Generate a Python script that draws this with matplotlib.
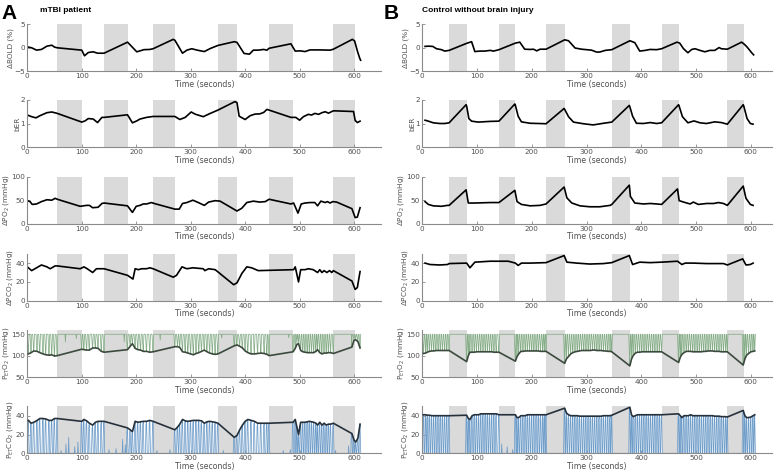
import numpy as np
import matplotlib
matplotlib.use("Agg")
import matplotlib.pyplot as plt

plt.rcParams['font.family'] = ['DejaVu Sans']
plt.rcParams['mathtext.default'] = 'regular'

# ---------------- breath-hold blocks (seconds) ----------------
blocks_A = [(55, 100), (141, 184), (231, 271), (350, 385), (444, 488), (562, 601)]
blocks_B = [(49, 81), (140, 170), (226, 260), (346, 379), (437, 468), (557, 587)]

# ---------------- A: mTBI patient ----------------
bold_A_t = [0, 8, 17, 26, 36, 45, 50, 55, 100, 105, 112, 121, 129, 141, 184, 201, 207, 214, 225, 231,
            268, 271, 285, 293, 302, 312, 325, 336, 350, 380, 385, 398, 408, 415, 424, 434, 440, 444,
            484, 492, 501, 510, 519, 537, 556, 562, 597, 601, 606, 610, 612]
bold_A_v = [0.2, 0, -0.5, -0.35, 0.35, 0.55, 0.15, 0, -0.5, -1.7, -1.0, -0.85, -1.15, -1.15, 1.2, -0.85,
            -0.65, -0.4, -0.35, -0.2, 1.8, 1.6, -1.15, -0.5, -0.2, -0.5, -0.8, -0.15, 0.5, 1.3, 1.15, -1.2,
            -1.35, -0.5, -0.5, -0.35, -0.5, -0.1, 0.85, -0.7, -0.65, -0.8, -0.45, -0.45, -0.5, -0.3, 1.8,
            1.45, -0.65, -2.1, -2.65]

ber_A_t = [0, 8, 16, 23, 36, 45, 55, 100, 106, 112, 121, 129, 137, 141, 184, 193, 201, 207, 219, 231,
           271, 280, 290, 301, 308, 323, 336, 350, 381, 385, 389, 400, 409, 418, 427, 434, 440, 444,
           484, 493, 500, 507, 516, 522, 528, 535, 541, 547, 553, 562, 599, 602, 606, 611]
ber_A_v = [1.36, 1.29, 1.24, 1.33, 1.46, 1.49, 1.43, 1.06, 1.11, 1.21, 1.19, 1.04, 1.26, 1.26, 1.37, 1.03,
           1.11, 1.19, 1.26, 1.30, 1.30, 1.17, 1.26, 1.49, 1.40, 1.29, 1.43, 1.57, 1.93, 1.89, 1.31, 1.17,
           1.33, 1.40, 1.41, 1.47, 1.60, 1.57, 1.26, 1.26, 1.14, 1.29, 1.39, 1.36, 1.43, 1.39, 1.46, 1.50,
           1.44, 1.54, 1.51, 1.13, 1.04, 1.10]

dpo2_A_t = [0, 5, 9, 17, 26, 36, 45, 51, 55, 97, 109, 114, 120, 130, 137, 141, 184, 193, 200, 207, 213,
            219, 228, 233, 271, 279, 285, 293, 304, 314, 325, 333, 345, 354, 385, 394, 403, 415, 427, 437,
            444, 484, 489, 497, 503, 510, 519, 528, 533, 539, 547, 551, 556, 561, 568, 596, 602, 606, 611]
dpo2_A_v = [49, 47, 41, 42, 47, 51, 50, 54, 52, 37, 39, 39, 34, 35, 43, 44, 38, 24, 37, 39, 42, 42, 45, 43,
            31, 31, 43, 45, 50, 45, 39, 46, 49, 48, 27, 33, 45, 48, 46, 47, 52, 42, 44, 22.5, 42, 44, 45, 45,
            38, 48, 45, 47, 44, 47, 46, 32, 13, 14, 34]

dpco2_A_t = [0, 8, 17, 26, 36, 42, 51, 55, 97, 104, 110, 120, 127, 141, 184, 194, 198, 204, 210, 219, 225,
             231, 268, 274, 284, 293, 304, 323, 326, 333, 345, 379, 385, 394, 403, 412, 424, 489, 492, 498,
             502, 510, 516, 525, 533, 537, 541, 545, 550, 555, 559, 562, 596, 602, 606, 611]
dpco2_A_v = [36, 32, 35, 38, 36, 34, 37, 37, 34, 36, 34, 30, 34, 34, 27, 23, 34, 33, 34, 34, 35, 34, 25,
             27, 36, 34, 35, 34, 32, 34, 33, 17, 19, 29, 36, 35, 32, 33, 36, 20, 33, 33, 34, 33, 30, 33, 30,
             32, 30, 32, 30, 32, 21, 12, 14, 31]

# breath-by-breath end-tidal values (patient)
breath_A_t = [2, 7, 12, 18, 23, 29, 34, 40, 45, 50, 55,
              100, 104, 109, 114, 120, 125, 130, 136, 141,
              184, 189, 193, 198, 203, 208, 213, 219, 225, 231,
              271, 276, 280, 285, 290, 295, 300, 305, 310, 315, 320, 325, 330, 335, 340, 345, 350,
              380, 385, 390, 395, 400, 405, 411, 417, 423, 429, 435, 440, 444,
              488, 492, 495, 498, 502, 506, 510, 514, 518, 522, 526, 530, 533, 537, 541, 545, 549, 553, 557, 562,
              596, 600, 603, 607, 611]
peto2_A = [104, 107, 111, 110, 107, 104, 102, 101, 102, 99, 100,
           115, 114, 113, 113, 118, 118, 117, 110, 108,
           114, 122, 128, 117, 114, 113, 110, 110, 108, 109,
           121, 121, 119, 109, 108, 106, 104, 102, 105, 107, 110, 113, 109, 106, 104, 103, 104,
           123, 125, 122, 118, 111, 107, 104, 104, 105, 106, 105, 103, 100,
           109, 117, 126, 128, 112, 109, 108, 107, 107, 107, 107, 110, 114, 107, 104, 106, 106, 107, 107, 105,
           120, 136, 137, 133, 118]
petco2_A = [35, 32, 33, 35, 37, 37, 36.5, 35, 35, 37, 37,
            34, 36, 34.5, 32, 30, 33, 34, 34, 34,
            27, 25, 23, 34, 33, 33.5, 34, 34, 35, 34,
            25, 28, 31, 36, 34.5, 34, 34.5, 35, 35, 35, 34.5, 32, 33.5, 34, 33.5, 33, 32,
            17, 19, 25, 30, 34, 36, 35, 34, 32, 32, 32, 32, 32,
            33, 36, 28, 20, 33, 33, 33, 33.5, 34, 33.5, 33, 32, 30, 33, 30, 32, 30, 31, 31, 32,
            21, 14, 12, 16, 31]
# sensor blips during breath holds (patient)
blip_o2_A_t = [70, 90, 178, 244, 357, 480, 596]
blip_o2_A_v = [132, 140, 132, 136, 141, 142, 140]
blip_co2_A_t = [62, 71, 76, 87, 93, 150, 163, 175, 180, 238, 262, 360, 470, 483, 566, 590]
blip_co2_A_v = [3, 10, 17, 7, 12, 4, 5, 15, 9, 3, 4, 3, 3, 4, 3, 8]

# ---------------- B: control ----------------
bold_B_t = [5, 11, 19, 26, 35, 41, 49, 81, 90, 96, 105, 114, 124, 130, 140, 170, 178, 187, 197, 203, 209,
            215, 226, 260, 267, 279, 291, 300, 309, 318, 324, 334, 346, 379, 388, 397, 407, 416, 428, 437,
            465, 470, 477, 485, 492, 498, 507, 516, 525, 534, 542, 546, 557, 583, 587, 592, 597, 601, 605]
bold_B_v = [0.3, 0.35, 0.3, -0.2, -0.4, -0.7, -0.55, 0.95, 1.3, -0.8, -0.7, -0.7, -0.55, -0.7, -0.4, 1.0,
            1.2, -0.3, -0.35, -0.3, -0.65, -0.3, -0.3, 1.7, 1.5, -0.05, -0.3, -0.4, -0.5, -0.9, -0.9, -0.55,
            -0.4, 1.5, 1.1, -0.7, -0.55, -0.35, -0.4, -0.2, 1.2, 1.0, -0.2, -1.05, -0.35, -0.2, -0.55, -0.85,
            -0.55, -0.55, 0.05, -0.2, -0.3, 1.2, 0.85, 0.3, -0.4, -1.0, -1.5]

ber_B_t = [5, 11, 20, 32, 41, 49, 80, 81, 85, 90, 102, 124, 140, 169, 170, 175, 181, 197, 212, 226, 259,
           260, 267, 276, 294, 312, 331, 346, 378, 379, 384, 391, 404, 416, 428, 437, 468, 469, 475, 485,
           496, 507, 519, 534, 546, 557, 586, 587, 593, 599, 604]
ber_B_v = [1.14, 1.10, 1.03, 1.0, 1.0, 1.03, 1.80, 1.74, 1.21, 1.10, 1.06, 1.09, 1.10, 1.83, 1.77, 1.31,
           1.07, 1.01, 1.0, 0.99, 1.64, 1.60, 1.29, 1.06, 0.99, 0.94, 1.01, 1.06, 1.77, 1.71, 1.31, 1.01,
           1.0, 1.04, 1.0, 1.03, 1.80, 1.74, 1.29, 1.03, 1.11, 1.03, 1.0, 1.07, 1.04, 0.97, 1.80, 1.74,
           1.21, 1.0, 0.97]

dpo2_B_t = [5, 11, 20, 35, 46, 49, 80, 84, 96, 124, 140, 169, 173, 181, 197, 215, 226, 259, 264, 273, 288,
            306, 324, 343, 346, 378, 380, 388, 404, 416, 428, 437, 466, 469, 480, 489, 495, 504, 519, 532,
            541, 550, 557, 586, 591, 599, 604]
dpo2_B_v = [47, 41, 38, 37, 39, 39, 72, 44, 44, 45, 45, 71, 47, 41, 38, 39, 42, 78, 55, 44, 38, 36, 36, 39,
            41, 82, 58, 44, 42, 43, 42, 41, 74, 49, 45, 42, 46, 41, 43, 43, 45, 43, 39, 80, 54, 41, 39]

dpco2_B_t = [5, 14, 32, 46, 49, 81, 87, 96, 124, 157, 170, 175, 181, 197, 226, 259, 264, 282, 306, 331,
             346, 378, 384, 397, 416, 437, 466, 474, 480, 495, 519, 550, 557, 585, 591, 599, 604]
dpco2_B_v = [40, 38.5, 38, 38.5, 39.5, 40, 35, 41, 42, 42, 40, 37.5, 40, 40, 40.5, 48, 41, 40, 39, 39.5,
             40.5, 48, 38.5, 41, 40.5, 41, 42, 38.5, 40, 40, 39.5, 39.5, 38, 44.5, 38, 38.5, 40]

# breath-by-breath end-tidal values (control)
breath_B_t = [2, 6, 9, 13, 17, 21, 25, 29, 33, 37, 41, 45, 49,
              81, 84, 87, 91, 95, 99, 103, 107, 111, 115, 119, 123, 127, 131, 135, 140,
              170, 173, 176, 180, 184, 188, 192, 196, 200, 204, 208, 212, 216, 220, 223, 226,
              260, 263, 267, 271, 275, 279, 283, 287, 291, 295, 299, 303, 307, 311, 315, 319, 323, 327,
              331, 335, 339, 343, 346,
              379, 382, 385, 389, 393, 397, 401, 405, 409, 413, 417, 421, 425, 429, 433, 437,
              468, 471, 474, 478, 482, 486, 490, 494, 498, 502, 506, 510, 514, 518, 522, 526, 530, 534,
              538, 542, 546, 550, 554, 557,
              586, 589, 592, 596, 600, 604, 607]
peto2_B = [105, 106, 108, 110, 111, 111, 112, 112, 112, 112, 112, 112, 112,
           86, 100, 108, 108, 108, 109, 109, 109, 109, 109, 109, 109, 109, 108, 108, 108,
           87, 98, 104, 110, 110, 111, 111, 111, 111, 111, 111, 111, 110, 110, 110, 110,
           82, 92, 98, 104, 107, 109, 110, 111, 112, 112, 112, 112, 112, 113, 113, 112, 112, 112,
           111, 111, 110, 110, 109,
           76, 92, 100, 106, 108, 108, 109, 109, 109, 109, 109, 109, 109, 109, 109, 109,
           84, 96, 103, 107, 110, 110, 110, 109, 109, 109, 109, 109, 110, 110, 111, 111, 111, 110,
           110, 110, 109, 109, 109, 109,
           78, 92, 101, 105, 109, 110, 111]
petco2_B = [41, 41, 40.5, 40.5, 40, 40, 40, 40, 40, 40, 40, 40, 40,
            40.5, 37, 36, 40, 41, 41, 41, 42, 42, 42, 42, 42, 42, 42, 42, 41,
            41, 38, 38, 40, 40, 40, 41, 41, 41, 41, 41, 41, 41, 41, 41, 41,
            48, 43, 41, 40, 40, 40, 40, 39.5, 39.5, 39.5, 39.5, 39.5, 39.5, 39.5, 39.5, 39.5, 39.5, 39.5,
            40, 40, 40, 40, 40.5,
            49, 41, 39, 40, 41, 41, 41, 41, 41, 41, 41, 41, 41, 41, 41, 41,
            42, 40, 38, 40, 40, 40, 41, 40, 40, 40, 40, 40, 40, 40, 40, 40, 40, 39.5,
            39.5, 39.5, 39, 39, 39, 38.6,
            45.6, 40, 38, 38, 38.6, 40, 41]
blip_o2_B_t = []
blip_o2_B_v = []
blip_co2_B_t = [145, 155, 165]
blip_co2_B_v = [10, 7, 4]

PIO2 = 150   # inspired O2 level of the raw gas trace (mmHg)
PICO2 = 0    # inspired CO2 level of the raw gas trace (mmHg)

xticks = [0, 100, 200, 300, 400, 500, 600]

# ---------------- styling ----------------
GRAY_BLOCK = '#dadada'
AX_COLOR = '#8a8a8a'
TXT_COLOR = '#505050'
O2_RAW = '#86ad88'
O2_ET = '#3c4a3e'
CO2_RAW = '#6f9dc9'
CO2_ET = '#27313c'

W, H = 777, 474
fig = plt.figure(figsize=(W / 100, H / 100), dpi=100)

row_tops = [24.3, 100.0, 176.7, 253.7, 330.0, 406.3]
row_h = 47.0
col_left = [27.3, 422.3]
col_width = [354.0, 349.4]
col_xmax = [650, 638]


def raw_trace(times, vals, base, blip_t, blip_v, kind):
    pts = []
    n = len(times)
    for i in range(n):
        t, v = times[i], vals[i]
        gp = t - times[i - 1] if i > 0 else 4
        gn = times[i + 1] - t if i < n - 1 else 4
        d1 = min(2.0, gp * 0.45)
        d2 = min(1.2, gn * 0.3)
        if kind == 'o2':
            pts += [(t - d1, base), (t - 0.2 * d1, v + 1.5), (t, v), (t + d2, base)]
        else:
            pts += [(t - d1, base), (t - 0.55 * d1, v * 0.9), (t, v), (t + d2, base)]
    for t, v in zip(blip_t, blip_v):
        pts += [(t - 0.8, base), (t, v), (t + 0.8, base)]
    pts.sort(key=lambda p: p[0])
    return [p[0] for p in pts], [p[1] for p in pts]


def make_ax(col, row, ylim, yticks, ylabel, blocks):
    l = col_left[col] / W
    b = 1 - (row_tops[row] + row_h) / H
    ax = fig.add_axes([l, b, col_width[col] / W, row_h / H])
    for s, e in blocks:
        ax.axvspan(s, e, color=GRAY_BLOCK, lw=0, zorder=0)
    ax.set_xlim(0, col_xmax[col])
    ax.set_ylim(*ylim)
    ax.set_xticks(xticks)
    ax.set_yticks(yticks)
    for sp in ['top', 'right']:
        ax.spines[sp].set_visible(False)
    for sp in ['left', 'bottom']:
        ax.spines[sp].set_color(AX_COLOR)
        ax.spines[sp].set_linewidth(0.8)
    ax.tick_params(direction='in', length=2.5, width=0.6, colors=AX_COLOR,
                   labelsize=5.2, labelcolor=TXT_COLOR, pad=1.5)
    ax.set_xlabel('Time (seconds)', fontsize=5.6, color=TXT_COLOR, labelpad=0.5)
    ax.set_ylabel(ylabel, fontsize=5.2, color=TXT_COLOR, labelpad=0.5)
    return ax


panels = [
    dict(blocks=blocks_A, bold=(bold_A_t, bold_A_v), ber=(ber_A_t, ber_A_v), dpo2=(dpo2_A_t, dpo2_A_v),
         dpco2=(dpco2_A_t, dpco2_A_v), bt=breath_A_t, o2=peto2_A, co2=petco2_A,
         bo2=(blip_o2_A_t, blip_o2_A_v), bco2=(blip_co2_A_t, blip_co2_A_v)),
    dict(blocks=blocks_B, bold=(bold_B_t, bold_B_v), ber=(ber_B_t, ber_B_v), dpo2=(dpo2_B_t, dpo2_B_v),
         dpco2=(dpco2_B_t, dpco2_B_v), bt=breath_B_t, o2=peto2_B, co2=petco2_B,
         bo2=(blip_o2_B_t, blip_o2_B_v), bco2=(blip_co2_B_t, blip_co2_B_v)),
]

for col, P in enumerate(panels):
    bl = P['blocks']
    ax = make_ax(col, 0, (-5, 5), [-5, 0, 5], 'ΔBOLD (%)', bl)
    ax.plot(*P['bold'], color='black', lw=1.2)
    ax = make_ax(col, 1, (0, 2), [0, 1, 2], 'bER', bl)
    ax.plot(*P['ber'], color='black', lw=1.2)
    ax = make_ax(col, 2, (0, 100), [0, 50, 100], 'ΔPO$_2$ (mmHg)', bl)
    ax.plot(*P['dpo2'], color='black', lw=1.2)
    ax = make_ax(col, 3, (0, 50), [0, 20, 40], 'ΔPCO$_2$ (mmHg)', bl)
    ax.plot(*P['dpco2'], color='black', lw=1.2)

    ax = make_ax(col, 4, (50, 160), [50, 100, 150], 'P$_{ET}$O$_2$ (mmHg)', bl)
    rx, ry = raw_trace(P['bt'], P['o2'], PIO2, *P['bo2'], kind='o2')
    ax.plot(rx, ry, color=O2_RAW, lw=0.55, zorder=2)
    ax.plot(P['bt'], P['o2'], color=O2_ET, lw=1.2, zorder=3)

    ax = make_ax(col, 5, (0, 50), [0, 20, 40], 'P$_{ET}$CO$_2$ (mmHg)', bl)
    rx, ry = raw_trace(P['bt'], P['co2'], PICO2, *P['bco2'], kind='co2')
    ax.plot(rx, ry, color=CO2_RAW, lw=0.55, zorder=2)
    ax.plot(P['bt'], P['co2'], color=CO2_ET, lw=1.2, zorder=3)

fig.text(1 / W, 1 - 19 / H, 'A', fontsize=15, fontweight='bold', family='Liberation Sans')
fig.text(40 / W, 1 - 12 / H, 'mTBI patient', fontsize=6, fontweight='bold', family='Liberation Sans')
fig.text(384 / W, 1 - 19 / H, 'B', fontsize=15, fontweight='bold', family='Liberation Sans')
fig.text(422 / W, 1 - 12 / H, 'Control without brain injury', fontsize=6, fontweight='bold',
         family='Liberation Sans')

fig.savefig('out.png', dpi=100)
